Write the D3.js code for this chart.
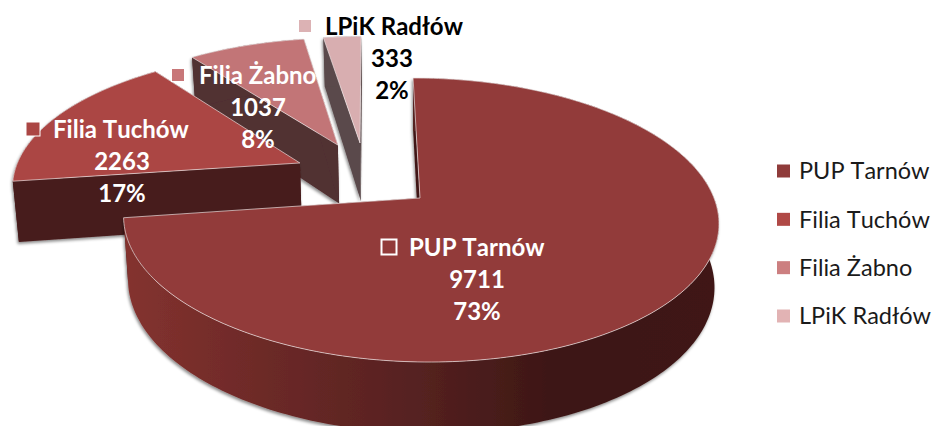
<!DOCTYPE html>
<html><head><meta charset="utf-8">
<script src="https://cdn.jsdelivr.net/npm/d3@7/dist/d3.min.js"></script>
<style>
html,body{margin:0;padding:0;background:#fff}
svg{display:block}
text{font-family:Lato,"Open Sans",sans-serif;font-kerning:none}
</style></head><body>
<svg id="c" width="937" height="426"></svg>
<script>
const categories = ["PUP Tarnów","Filia Tuchów","Filia Żabno","LPiK Radłów"];
const values = [9711,2263,1037,333];
const percents = ["73%","17%","8%","2%"];
const topColors = ["#923b3a","#ab4644","#c27577","#d8aeb0"];
const wallColors = ["url(#pupWall)","#471b1b","#513032","#5a4a4b"];
const legendColors = ["#8f3b3a","#b04946","#cc7f80","#e2b3b4"];
const markerColors = ["#923b3a","#ab4644","#c87779","#dcb2b4"];
const textColors = ["#fff","#fff","#fff","#000"];
// exploded offset of every slice on the pie plane (radius = 1)
const offsetU = [0,-0.418,-0.286,-0.206];
const offsetV = [0,0.263,0.406,0.423];
// label anchors: marker centre, name left edge, block centre, first line y
const labelBoxes = [
  {mx:389,nx:409,cx:477,y:247,sz:15},
  {mx:33,nx:53,cx:122,y:129,sz:14},
  {mx:178,nx:199,cx:258,y:75,sz:13},
  {mx:305,nx:325,cx:392,y:26,sz:13}
];
const svg = d3.select("#c");
const defs = svg.append("defs");
const g = defs.append("linearGradient").attr("id","pupWall").attr("gradientUnits","userSpaceOnUse")
  .attr("x1",124).attr("x2",718).attr("y1",0).attr("y2",0);
[[0,"#84322f"],[0.25,"#6b2927"],[0.5,"#552120"],[0.72,"#3d1715"],[1,"#3f1816"]].forEach(s=>g.append("stop").attr("offset",s[0]).attr("stop-color",s[1]));
const blur = defs.append("filter").attr("id","sh").attr("x","-10%").attr("y","-10%").attr("width","120%").attr("height","120%");
blur.append("feDropShadow").attr("dx",-1).attr("dy",2).attr("stdDeviation",1.6).attr("flood-color","#000").attr("flood-opacity",0.45);

// perspective projection of the pie plane
const ox=420, oy=198, k=294, m=138.6, p=0.155, s=-8;
const project=(U,V)=>{const d=1+p*V;return [ox+(k*U+s*V)/d, oy-m*V/d];};
const lower=(U,V)=>{const q=project(U,V);const h=62-9*V;return [q[0]+(ox-q[0])*0.015,q[1]+h];};

const pie = d3.pie().sort(null).startAngle(0).endAngle(2*Math.PI);
const arcs = pie(values);
const line = d3.line();
const samples=(a0,a1)=>{const n=Math.max(2,Math.ceil((a1-a0)/0.02));return d3.range(n+1).map(i=>a0+(a1-a0)*i/n);};

const order=[3,2,1,0];
order.forEach(i=>{
  const a=arcs[i], u0=offsetU[i], v0=offsetV[i];
  const pt=(t)=>[u0+Math.sin(t),v0+Math.cos(t)];
  const ts=samples(a.startAngle,a.endAngle);
  const topArc=ts.map(t=>project(...pt(t)));
  const lowArc=ts.map(t=>lower(...pt(t)));
  const c=[project(u0,v0),lower(u0,v0)];
  const slice=svg.append("g").attr("class","slice");
  const walls=slice.append("g").attr("filter","url(#sh)");
  const fill=wallColors[i];
  const sidefill = i===0 ? "#3f1715" : fill;
  // radial walls first, the outer wall overlaps them
  walls.append("path").attr("d",line([topArc[0],c[0],c[1],lowArc[0]])+"Z").attr("fill",sidefill);
  walls.append("path").attr("d",line([topArc[topArc.length-1],c[0],c[1],lowArc[lowArc.length-1]])+"Z").attr("fill",sidefill);
  walls.append("path").attr("d",line(topArc.concat(lowArc.slice().reverse()))+"Z").attr("fill",fill);
  // top surface
  slice.append("path").attr("d",line([c[0]].concat(topArc))+"Z")
    .attr("fill",topColors[i]).attr("stroke","#efe6e6").attr("stroke-opacity",0.75).attr("stroke-width",0.9);
});

// data labels
categories.forEach((name,i)=>{
  const b=labelBoxes[i];
  const l=svg.append("g").attr("class","label").attr("fill",textColors[i]).attr("font-weight",700).attr("font-size",24);
  svg.append("rect").attr("x",b.mx-b.sz/2).attr("y",b.y-b.sz/2).attr("width",b.sz).attr("height",b.sz)
    .attr("fill",markerColors[i]).attr("stroke","#fff").attr("stroke-width",i===0?2:1);
  l.append("text").attr("x",b.nx).attr("y",b.y).attr("dy","0.36em").text(name);
  l.append("text").attr("x",b.cx).attr("y",b.y+32).attr("dy","0.36em").attr("text-anchor","middle").text(values[i]);
  l.append("text").attr("x",b.cx).attr("y",b.y+64).attr("dy","0.36em").attr("text-anchor","middle").text(percents[i]);
});

// legend
const ly=d3.scalePoint().domain(categories).range([171,316]);
const leg=svg.append("g").attr("class","legend");
categories.forEach((name,i)=>{
  leg.append("rect").attr("x",777).attr("y",ly(name)-6.5).attr("width",13).attr("height",13).attr("fill",legendColors[i]);
  leg.append("text").attr("x",799).attr("y",ly(name)).attr("dy","0.36em").attr("font-size",23.5).attr("fill","#1a1a1a").text(name);
});
</script>
</body></html>
